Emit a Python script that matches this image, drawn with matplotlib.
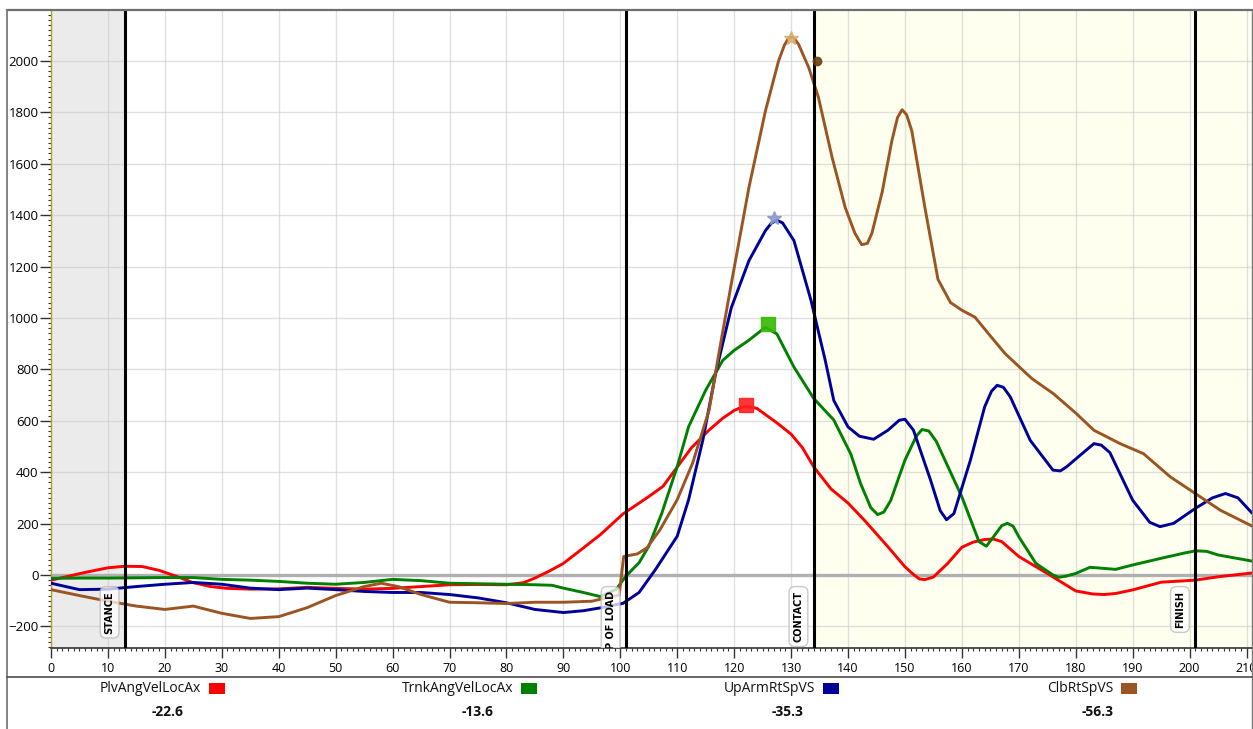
import matplotlib
matplotlib.use("Agg")
import matplotlib.pyplot as plt
from matplotlib.patches import Rectangle
from matplotlib.lines import Line2D
from matplotlib.ticker import MultipleLocator

plt.rcParams['font.family'] = ['Open Sans', 'DejaVu Sans']

# ---------------- data ----------------
plv_x = [0, 3, 6, 10, 13, 16, 19, 22, 25, 28, 31, 35, 40, 45, 50, 55, 60, 65, 70, 75, 80, 83, 85, 87.5, 90,
         93.5, 96.5, 100.5, 105, 107.5, 110, 112.5, 115.5, 118, 120, 121, 122, 123, 124, 127.5, 130, 132, 134,
         137, 140, 143, 147, 150, 151.5, 152.5, 153.5, 155, 157.5, 160, 162, 164, 165.5, 167, 170, 175, 180,
         183, 185, 187, 190, 195, 201, 205, 211]
plv_y = [-20, -5, 10, 28, 34, 33, 18, -5, -30, -45, -52, -55, -54, -48, -52, -55, -52, -45, -38, -37, -38, -30,
         -12, 15, 45, 105, 157, 238, 305, 345, 420, 495, 562, 610, 640, 650, 655, 653, 648, 592, 548, 495, 420,
         335, 280, 210, 110, 32, 2, -15, -18, -8, 45, 108, 128, 138, 140, 130, 72, 6, -62, -74, -76, -72, -58,
         -28, -20, -7, 8]

trnk_x = [0, 5, 10, 15, 20, 25, 30, 35, 40, 45, 50, 55, 60, 65, 70, 75, 80, 85, 88, 90, 93.5, 96.5, 99.3, 101,
          103.3, 105, 107.3, 110, 112, 115, 118, 120, 122.5, 125.5, 127.5, 130.5, 134, 137.5, 140.5, 142.2, 144,
          145.2, 146.3, 147.5, 150, 152, 153, 154.2, 155.5, 160, 163, 164.3, 165.6, 167, 168, 169, 170, 173, 176,
          177, 178.2, 180, 182.5, 187, 190, 195, 199, 201, 203, 205, 211]
trnk_y = [-13, -12, -12, -11, -10, -10, -17, -20, -25, -32, -36, -29, -17, -22, -32, -34, -36, -38, -40, -51,
          -68, -84, -55, -4, 48, 112, 241, 422, 577, 719, 835, 874, 912, 964, 938, 809, 686, 603, 470, 356, 262,
          235, 245, 290, 447, 540, 566, 560, 520, 304, 130, 112, 150, 192, 201, 190, 149, 45, 0, -9, -5, 6, 30,
          22, 39, 65, 85, 94, 92, 78, 54]

uparm_x = [0, 5, 10, 15, 20, 25, 30, 35, 40, 45, 50, 55, 60, 65, 70, 75, 80, 85, 90, 93.5, 97, 100.5, 103.3,
           106.2, 110, 112, 114.5, 116.8, 119.5, 122.6, 125.5, 126.5, 127.5, 128.5, 130.5, 133.5, 136, 137.5, 140,
           142, 144.5, 147, 149, 150, 151.5, 154.5, 156.2, 157.3, 158.6, 161.5, 164, 165.2, 166.2, 167.3, 168.5,
           172, 176, 177.3, 178.4, 181, 183.2, 184.5, 186, 190, 193, 194.8, 197.2, 201, 204, 206.3, 208.5, 211]
uparm_y = [-32, -57, -55, -45, -36, -29, -36, -51, -57, -51, -57, -64, -68, -68, -76, -89, -108, -134, -146,
           -139, -126, -110, -68, 22, 151, 293, 525, 790, 1040, 1223, 1340, 1368, 1380, 1370, 1301, 1068, 835,
           679, 576, 540, 528, 563, 602, 606, 563, 369, 250, 215, 239, 447, 654, 715, 738, 730, 693, 524, 408,
           405, 421, 470, 511, 505, 476, 291, 205, 188, 201, 259, 300, 317, 300, 240]

clb_x = [0, 5, 10, 15, 20, 25, 30, 35, 40, 45, 50, 55, 58, 61, 65, 70, 75, 80, 85, 90, 95, 99.8, 100.6, 103,
         104.7, 107, 110, 112.7, 115.6, 117.3, 119.7, 122.6, 125.5, 127.8, 128.8, 129.6, 130.4, 131.3, 133.1,
         134.8, 137.2, 139.5, 141.2, 142.4, 143.4, 144.2, 146, 147.7, 148.7, 149.5, 150.3, 151.2, 153.5, 155.8,
         158, 160, 162.3, 165, 167.6, 172.3, 176.1, 180, 183.2, 187.8, 191.9, 196.6, 201, 205.4, 211]
clb_y = [-57, -80, -102, -121, -134, -121, -149, -169, -162, -127, -80, -45, -32, -45, -76, -106, -108, -111,
         -106, -106, -102, -78, 72, 82, 106, 177, 293, 435, 641, 860, 1158, 1508, 1806, 2000, 2060, 2091, 2092,
         2065, 1974, 1858, 1625, 1430, 1330, 1285, 1290, 1330, 1490, 1689, 1780, 1810, 1790, 1728, 1430, 1150,
         1060, 1030, 1003, 930, 861, 764, 705, 630, 563, 511, 472, 382, 317, 252, 190]

series_names = ["PlvAngVelLocAx", "TrnkAngVelLocAx", "UpArmRtSpVS", "ClbRtSpVS"]
series_values = ["-22.6", "-13.6", "-35.3", "-56.3"]
series_colors = ["#ff0000", "#008000", "#000099", "#9b5523"]

event_names = ["STANCE", "TOP OF LOAD", "CONTACT", "FINISH"]
event_x = [13, 101, 134, 201]

peak_x = [122, 126, 127, 130, 134.6]
peak_y = [660, 975, 1390, 2090, 2000]
peak_colors = ["#ff2020", "#33bb00", "#8899cc", "#d8b070", "#6b4010"]
peak_markers = ["s", "s", "*", "*", "o"]

# ---------------- figure ----------------
W, H = 1253, 729
fig = plt.figure(figsize=(W / 100, H / 100), dpi=100)
fig.patch.set_facecolor("white")

ax_l, ax_r, ax_t, ax_b = 51, 1252, 10, 648
ax = fig.add_axes([ax_l / W, 1 - ax_b / H, (ax_r - ax_l) / W, (ax_b - ax_t) / H])
XMAX = (ax_r - ax_l) / 5.693
ax.set_xlim(0, XMAX)
ax.set_ylim(-284, 2198)

# shading
ax.axvspan(0, event_x[0], color="#ebebeb", zorder=0, lw=0)
ax.axvspan(event_x[2], 300, color="#fffff0", zorder=0, lw=0)

# grid
ax.xaxis.set_major_locator(MultipleLocator(10))
ax.xaxis.set_minor_locator(MultipleLocator(1))
ax.yaxis.set_major_locator(MultipleLocator(200))
ax.yaxis.set_minor_locator(MultipleLocator(20))
ax.grid(True, which="major", color="#c8c8c8", alpha=0.55, lw=1.0, zorder=1)
ax.set_axisbelow(True)

# zero line
ax.axhline(0, color="#b0b0b0", lw=2.4, zorder=2)

# data
for xs, ys, c in zip([plv_x, trnk_x, uparm_x, clb_x], [plv_y, trnk_y, uparm_y, clb_y], series_colors):
    ax.plot(xs, ys, color=c, lw=2.1, zorder=3, solid_joinstyle="round", solid_capstyle="round")

# peak markers
for px, py, pc, pm in zip(peak_x, peak_y, peak_colors, peak_markers):
    ms = 10 if pm != "o" else 6
    ax.plot([px], [py], marker=pm, color=pc, ms=ms, mec=pc, zorder=5, alpha=0.9)

# event lines and labels
for ex, en in zip(event_x, event_names):
    ax.axvline(ex, color="black", lw=2.2, zorder=4)
    ax.annotate(en, xy=(ex, -47), xytext=(-7.5, -2.8), textcoords="offset points",
                rotation=90, ha="right", va="top", fontsize=7, fontweight="bold",
                family=["DejaVu Sans"], color="black", zorder=6,
                bbox=dict(boxstyle="round,pad=0.45,rounding_size=0.6", fc="white", ec="#b8b8b8",
                          lw=1.0, alpha=0.75),
                annotation_clip=False, clip_on=True)

# spines and ticks
for s in ["top", "right"]:
    ax.spines[s].set_visible(False)
ax.spines["left"].set_color("#b89c2c")
ax.spines["left"].set_linewidth(1.0)
ax.spines["bottom"].set_color("#333333")
ax.spines["bottom"].set_linewidth(1.2)
ax.tick_params(axis="y", which="major", length=8, width=1, color="#333333", labelsize=9.5, pad=1)
ax.tick_params(axis="y", which="minor", length=2.5, width=0.8, color="#333333")
ax.tick_params(axis="x", which="major", length=7, width=1, color="#333333", labelsize=9, pad=3)
ax.tick_params(axis="x", which="minor", length=2.5, width=0.8, color="#333333")
ax.set_xticks(list(range(0, 220, 10)))
ax.set_yticks(list(range(-200, 2200, 200)))
ax.set_xlim(0, XMAX)
ax.set_ylim(-284, 2198)

# frame lines (figure coords, pixel based)
def fx(p):
    return p / W

def fy(p):
    return 1 - p / H

fig.add_artist(Line2D([fx(7), fx(1253)], [fy(10), fy(10)], color="#6e6e6e", lw=1.6))
fig.add_artist(Line2D([fx(7), fx(7)], [fy(10), fy(729)], color="#7a7a7a", lw=1.3))
fig.add_artist(Line2D([fx(1252), fx(1252)], [fy(10), fy(729)], color="#7a7a7a", lw=1.0))
fig.add_artist(Line2D([fx(7), fx(1253)], [fy(677), fy(677)], color="#5a5a5a", lw=1.3))

# legend
sq_left = [209, 521, 823, 1121]
val_center = [168, 478, 788, 1098]
for name, val, col, sl, vc in zip(series_names, series_values, series_colors, sq_left, val_center):
    fig.text(fx(sl - 8), fy(689), name, ha="right", va="center", fontsize=10, color="#111111")
    fig.add_artist(Rectangle((fx(sl), fy(694)), 16 / W, 11 / H, facecolor=col, edgecolor="none",
                             transform=fig.transFigure))
    fig.text(fx(vc), fy(712), val, ha="center", va="center", fontsize=10, fontweight="bold",
             color="#111111")

fig.savefig("out.png", dpi=100)
